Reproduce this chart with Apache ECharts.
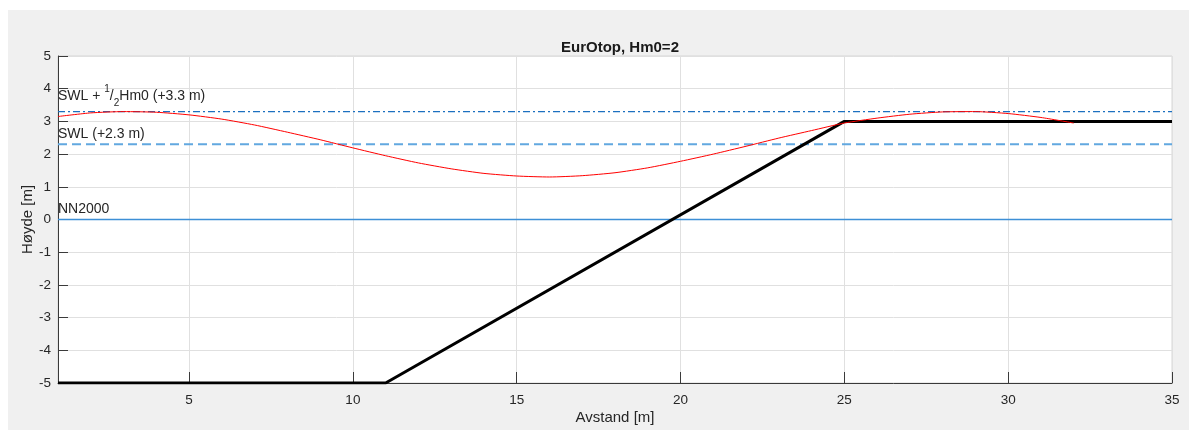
<!DOCTYPE html>
<html>
<head>
<meta charset="utf-8">
<script src="https://cdn.jsdelivr.net/npm/echarts@6/dist/echarts.min.js"></script>
<style>html,body{margin:0;padding:0;background:#fff}#c{width:1189px;height:430px}</style>
</head>
<body>
<div id="c"></div>
<script>
// Data
const structX = [1, 11, 25, 35];
const structY = [-5, -5, 3, 3];
const waveX = [1, 2, 3, 4, 5, 6, 7, 8, 9, 10, 11, 12, 13, 14, 15, 16, 17, 18, 19, 20, 21, 22, 23, 24, 25, 26, 27, 28, 29, 30, 31, 32];
const waveY = [3.15, 3.26, 3.30, 3.28, 3.20, 3.07, 2.89, 2.67, 2.44, 2.19, 1.95, 1.73, 1.55, 1.41, 1.33, 1.30, 1.34, 1.43, 1.58, 1.78, 2.00, 2.24, 2.49, 2.72, 2.95, 3.10, 3.22, 3.29, 3.30, 3.24, 3.12, 2.95];
const levelNames = ['NN2000', 'SWL', 'SWL + 1/2Hm0'];
const levelValues = [0, 2.3, 3.3];
const levelX = [1, 35];
const xTicks = [5, 10, 15, 20, 25, 30, 35];
const yTicks = [-5, -4, -3, -2, -1, 0, 1, 2, 3, 4, 5];

const FONT = "'Liberation Sans', Arial, Helvetica, sans-serif";
const TXT = '#262626';
const chart = echarts.init(document.getElementById('c'), null, {renderer: 'canvas'});

function pairs(xs, ys) { return xs.map((x, i) => [x, ys[i]]); }

const levelStyles = [
  {color: '#3d8fd6', width: 1.3, type: 'solid'},
  {color: '#62a8e0', width: 2, type: [9, 5]},
  {color: '#1c70c0', width: 1.4, type: [7, 3, 2, 3]}
];
const levelLabels = [
  {formatter: 'NN2000'},
  {formatter: 'SWL (+2.3 m)'},
  {formatter: '{n|SWL + }{s|1}{n|/}{b|2}{n|Hm0 (+3.3 m)}',
   rich: {
     n: {fontSize: 14, color: TXT, fontFamily: FONT, lineHeight: 24, verticalAlign: 'middle'},
     s: {fontSize: 10, color: TXT, fontFamily: FONT, lineHeight: 24, verticalAlign: 'top'},
     b: {fontSize: 10, color: TXT, fontFamily: FONT, lineHeight: 24, verticalAlign: 'bottom'}
   }}
];

const levelSeries = levelValues.map((v, i) => ({
  name: levelNames[i],
  type: 'line',
  silent: true,
  data: pairs(levelX, levelX.map(() => v)),
  symbol: 'none',
  showSymbol: false,
  color: levelStyles[i].color,
  lineStyle: {
    color: levelStyles[i].color,
    width: levelStyles[i].width,
    type: levelStyles[i].type
  },
  markLine: {
    silent: true,
    symbol: 'none',
    animation: false,
    lineStyle: {color: 'rgba(0,0,0,0)', width: 1, type: 'solid'},
    label: Object.assign({
      show: true,
      position: 'insideStartTop',
      distance: [0, 3],
      color: TXT,
      fontSize: 14,
      fontFamily: FONT
    }, levelLabels[i]),
    data: [{yAxis: v}]
  },
  z: 2
}));

const option = {
  animation: false,
  backgroundColor: '#f0f0f0',
  graphic: [
    {type: 'rect', shape: {x: 0, y: 0, width: 1189, height: 10}, style: {fill: '#ffffff'}, silent: true},
    {type: 'rect', shape: {x: 0, y: 0, width: 8, height: 430}, style: {fill: '#ffffff'}, silent: true}
  ],
  title: {
    text: 'EurOtop, Hm0=2',
    left: 615,
    top: 35,
    textAlign: 'center',
    textStyle: {fontSize: 15, fontWeight: 'bold', color: '#1a1a1a', fontFamily: FONT}
  },
  grid: {
    left: 58, right: 17, top: 56, bottom: 47,
    show: true, backgroundColor: '#ffffff', borderColor: '#d6d6d6', borderWidth: 1
  },
  xAxis: {
    type: 'value',
    min: 1, max: 35,
    splitNumber: 7, minInterval: 5, maxInterval: 5,
    name: 'Avstand [m]',
    nameLocation: 'middle',
    nameGap: 27,
    nameMoveOverlap: false,
    nameTextStyle: {fontSize: 15, color: TXT, fontFamily: FONT},
    axisLine: {show: true, onZero: false, lineStyle: {color: '#3a3a3a', width: 1}},
    axisTick: {show: true, inside: true, length: 11, lineStyle: {color: '#3a3a3a'}},
    axisLabel: {
      color: TXT, fontSize: 13.5, fontFamily: FONT, margin: 10,
      showMinLabel: false,
      formatter: v => (xTicks.indexOf(v) >= 0 ? String(v) : '')
    },
    splitLine: {show: true, lineStyle: {color: '#e0e0e0', width: 1}}
  },
  yAxis: {
    type: 'value',
    min: -5, max: 5, interval: 1,
    name: 'Høyde [m]',
    nameLocation: 'middle',
    nameGap: 23,
    nameMoveOverlap: false,
    nameTextStyle: {fontSize: 15, color: TXT, fontFamily: FONT},
    axisLine: {show: true, onZero: false, lineStyle: {color: '#3a3a3a', width: 1}},
    axisTick: {show: true, inside: true, length: 10, lineStyle: {color: '#3a3a3a'}},
    axisLabel: {
      color: TXT, fontSize: 13.5, fontFamily: FONT, margin: 7,
      formatter: v => (yTicks.indexOf(v) >= 0 ? String(v) : '')
    },
    splitLine: {show: true, lineStyle: {color: '#e0e0e0', width: 1}}
  },
  series: levelSeries.concat([
    {
      name: 'Konstruksjon',
      type: 'line',
      data: pairs(structX, structY),
      showSymbol: false,
      symbol: 'none',
      lineStyle: {color: '#000000', width: 3},
      z: 3
    },
    {
      name: 'Bølge',
      type: 'line',
      data: pairs(waveX, waveY),
      showSymbol: false,
      symbol: 'none',
      smooth: 0.2,
      lineStyle: {color: '#ff0000', width: 1},
      z: 4
    }
  ])
};
chart.setOption(option);
</script>
</body>
</html>
